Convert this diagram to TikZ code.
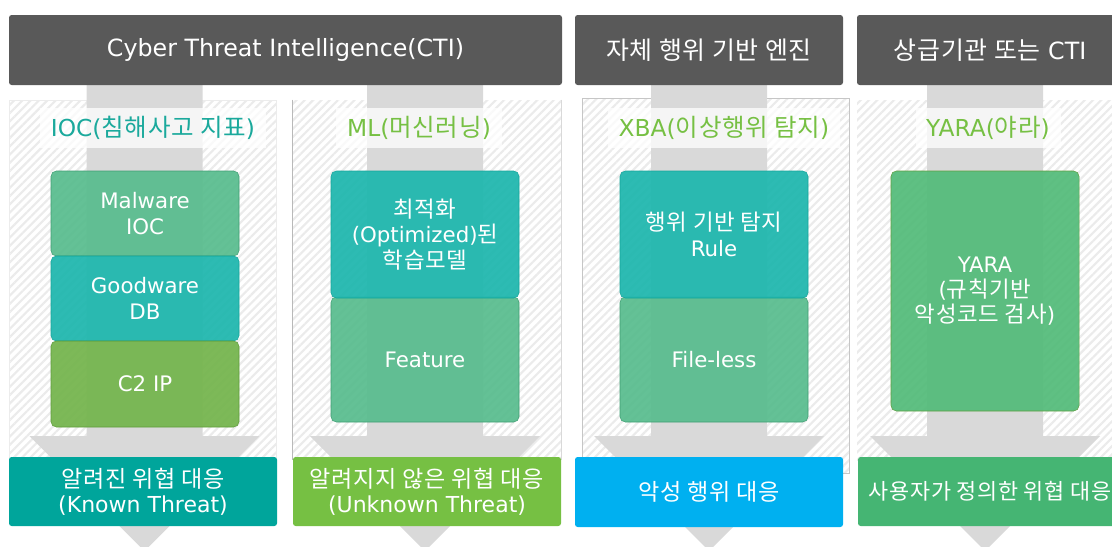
\documentclass[tikz,border=0pt]{standalone}
\usepackage{fontspec}
\setmainfont{DejaVu Sans}
\newfontfamily\kr[Scale=1.05,LetterSpace=3]{Noto Sans CJK KR}
\newcommand{\ko}[1]{{\kr #1}}
\usepackage{tikz}
\usetikzlibrary{patterns.meta}
\newdimen\px \px=0.75pt
\definecolor{hdrgray}{HTML}{595959}
\definecolor{stripe}{HTML}{EBEBEB}
\definecolor{bandgray}{HTML}{D9D9D9}
\definecolor{tealtxt}{HTML}{1BA99C}
\definecolor{greentxt}{HTML}{76C043}
\definecolor{mint}{HTML}{5ABD8F}
\definecolor{mintline}{HTML}{3F9E73}
\definecolor{teal}{HTML}{20B7AE}
\definecolor{tealline}{HTML}{14A69B}
\definecolor{leaf}{HTML}{75B54E}
\definecolor{leafline}{HTML}{5E9C3A}
\definecolor{yaragreen}{HTML}{55BC7B}
\definecolor{yaraline}{HTML}{5FA040}
\definecolor{resteal}{HTML}{00A59B}
\definecolor{resgreen}{HTML}{76C043}
\definecolor{resblue}{HTML}{00B0F0}
\definecolor{resgreen2}{HTML}{45B573}
\tikzset{
  hdrbox/.style = {rectangle, rounded corners=2pt, fill=hdrgray, text=white, inner sep=0pt, minimum height=70\px, font=\fontsize{17.8}{20}\selectfont},
  panelbg/.style = {rectangle, inner sep=0pt, minimum height=360\px, pattern={Lines[angle=45,distance=4.4pt,line width=1.6pt]}, pattern color=stripe},
  bandfill/.style = {fill=bandgray},
  ttl/.style = {rectangle, fill=white, fill opacity=0.75, text opacity=1, minimum height=40\px, inner xsep=8pt, font=\fontsize{17.5}{19}\selectfont},
  cellbox/.style = {rectangle, rounded corners=4pt, fill opacity=0.94, text opacity=1, text=white, inner sep=0pt, minimum width=188\px, align=center, font=\fontsize{16}{19}\selectfont},
  resbox/.style = {rectangle, rounded corners=2pt, text=white, inner sep=0pt, minimum width=268\px, minimum height=69\px, align=center, font=\fontsize{16.5}{19}\selectfont}
}
\newcommand{\flowband}[1]{\fill[bandfill] (#1-58,85) -- (#1+58,85) -- (#1+58,436) -- (#1+115,436) -- (#1,551) -- (#1-115,436) -- (#1-58,436) -- cycle;}

\begin{document}
\begin{tikzpicture}[x=0.75pt, y=-0.75pt]
\useasboundingbox (0,0) rectangle (1112,546);
\clip (0,0) rectangle (1112,546);

% hatched panels
\node [panelbg, draw=gray!15, minimum width=267\px] (pIOC) at (142.5,280) {};
\node [panelbg, minimum width=268\px] (pML) at (427,280) {};
\draw [gray!55] (pML.north west) -- (pML.south west);
\draw [gray!30] (pML.north east) -- (pML.south east);
\node [panelbg, draw=gray!45, minimum width=267\px, minimum height=375\px] (pXBA) at (715.5,285.5) {};
\node [panelbg, minimum width=258\px] (pYARA) at (986,280) {};

% flow bands
\flowband{144.5}
\flowband{425}
\flowband{709}
\flowband{985}

% headers
\node [hdrbox, minimum width=553\px] (hCTI) at (285.5,50) {Cyber Threat Intelligence(CTI)};
\node [hdrbox, minimum width=268\px] (hXBA) at (709,50) {\ko{자체 행위 기반 엔진}};
\node [hdrbox, minimum width=266\px] (hYARA) at (990,50) {\ko{상급기관 또는} CTI};

% panel titles
\node [ttl, text=tealtxt] (tIOC) at (153,128) {IOC(\ko{침해사고 지표})};
\node [ttl, text=greentxt] (tML) at (419,128) {ML(\ko{머신러닝})};
\node [ttl, text=greentxt] (tXBA) at (724,128) {XBA(\ko{이상행위 탐지})};
\node [ttl, text=greentxt] (tYARA) at (988,128) {YARA(\ko{야라})};

% IOC cells
\node [cellbox, fill=mint, draw=mintline, minimum height=85\px] (cMal) at (145,213.5) {Malware\\IOC};
\node [cellbox, fill=teal, draw=tealline, minimum height=85\px] (cGood) at (145,298.5) {Goodware\\DB};
\node [cellbox, fill=leaf, draw=leafline, minimum height=86\px] (cC2) at (145,384) {C2 IP};

% ML cells
\node [cellbox, fill=mint, draw=mintline, minimum height=125\px] (cFeat) at (425,359.5) {Feature};
\node [cellbox, fill=teal, draw=tealline, minimum height=127\px] (cModel) at (425,234.5) {\ko{최적화}\\(Optimized)\ko{된}\\\ko{학습모델}};

% XBA cells
\node [cellbox, fill=mint, draw=mintline, minimum height=125\px] (cFless) at (714,359.5) {File-less};
\node [cellbox, fill=teal, draw=tealline, minimum height=127\px] (cRule) at (714,234.5) {\ko{행위 기반 탐지}\\Rule};

% YARA cell
\node [cellbox, fill=yaragreen, draw=yaraline, minimum height=240\px] (cYara) at (985,291) {YARA\\(\ko{규칙기반}\\\ko{악성코드 검사})};

% results
\node [resbox, fill=resteal] (rKnown) at (143,491.5) {\ko{알려진 위협 대응}\\(Known Threat)};
\node [resbox, fill=resgreen] (rUnknown) at (427,491.5) {\ko{알려지지 않은 위협 대응}\\(Unknown Threat)};
\node [resbox, fill=resblue, minimum height=70\px] (rXBA) at (709,492) {\ko{악성 행위 대응}};
\node [resbox, fill=resgreen2, minimum width=264\px, font=\fontsize{15.6}{19}\selectfont] (rUser) at (990,491.5) {\ko{사용자가 정의한 위협 대응}};
\end{tikzpicture}
\end{document}
